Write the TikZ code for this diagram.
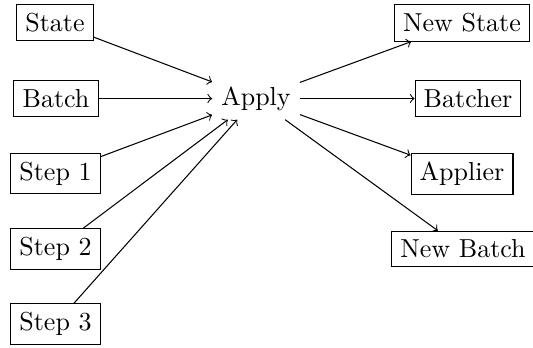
\documentclass[tikz,border=0pt]{standalone}
\begin{document}
\begin{tikzpicture}[x=0.3846pt,y=-0.3846pt,
  boxnode/.style={draw,inner sep=3.333pt},
  conn/.style={->}]
\useasboundingbox (0,0) rectangle (533,347);
\node[boxnode] (state) at (55,22.5) {State};
\node[boxnode] (batch) at (56,98.5) {Batch};
\node[boxnode] (s1) at (55.5,173.5) {Step 1};
\node[boxnode] (s2) at (55.5,249) {Step 2};
\node[boxnode] (s3) at (55.5,324) {Step 3};
\node (apply) at (256,98.5) {Apply};
\node[boxnode] (nstate) at (462,23) {New State};
\node[boxnode] (batcher) at (468,98.5) {Batcher};
\node[boxnode] (applier) at (462,174) {Applier};
\node[boxnode] (nbatch) at (463,249) {New Batch};
\foreach \a in {state,batch,s1,s2,s3} \draw[conn] (\a) -- (apply);
\foreach \b in {nstate,batcher,applier,nbatch} \draw[conn] (apply) -- (\b);
\end{tikzpicture}
\end{document}
